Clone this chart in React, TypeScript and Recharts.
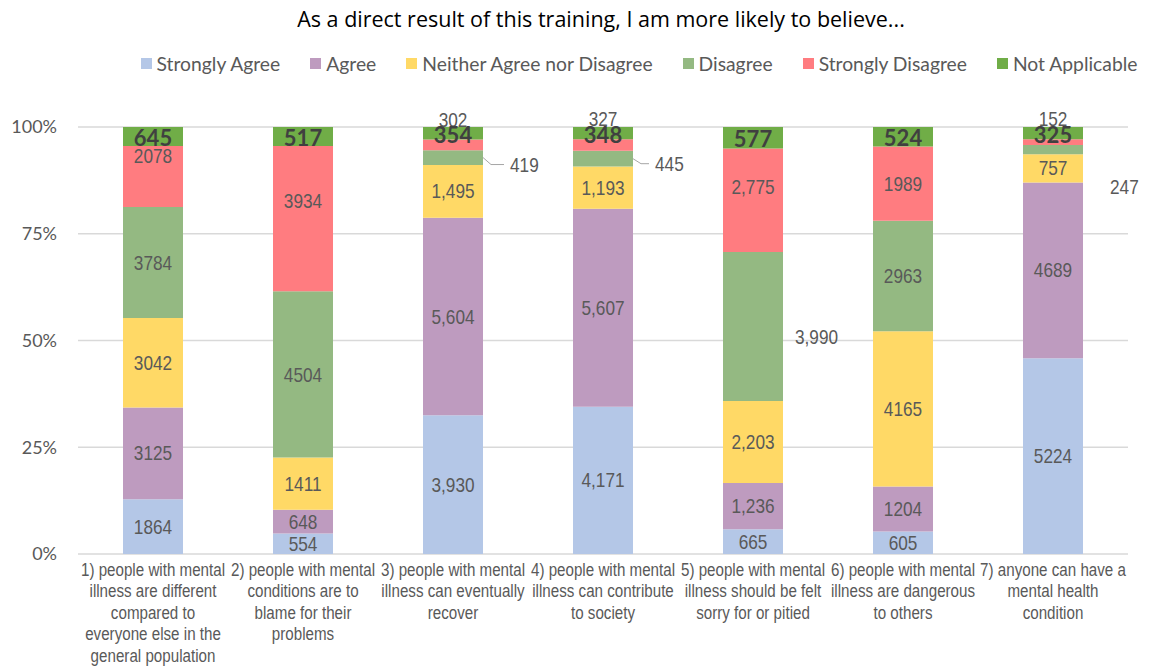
import React from 'react';
import { BarChart, Bar, XAxis, YAxis, CartesianGrid, LabelList } from 'recharts';

const categories = [
  '1) people with mental\nillness are different\ncompared to\neveryone else in the\ngeneral population',
  '2) people with mental\nconditions are to\nblame for their\nproblems',
  '3) people with mental\nillness can eventually\nrecover',
  '4) people with mental\nillness can contribute\nto society',
  '5) people with mental\nillness should be felt\nsorry for or pitied',
  '6) people with mental\nillness are dangerous\nto others',
  '7) anyone can have a\nmental health\ncondition',
];

const stronglyAgree = [1864, 554, 3930, 4171, 665, 605, 5224];
const agree = [3125, 648, 5604, 5607, 1236, 1204, 4689];
const neither = [3042, 1411, 1495, 1193, 2203, 4165, 757];
const disagree = [3784, 4504, 419, 445, 3990, 2963, 247];
const stronglyDisagree = [2078, 3934, 302, 327, 2775, 1989, 152];
const notApplicable = [645, 517, 354, 348, 577, 524, 325];

// which categories show thousands separators in their labels
const useComma = [false, false, true, true, true, false, false];

const yTicks = [0, 0.25, 0.5, 0.75, 1];

const series = [
  { key: 'sa', name: 'Strongly Agree', values: stronglyAgree, color: '#B4C7E7' },
  { key: 'a', name: 'Agree', values: agree, color: '#BE9BBF' },
  { key: 'n', name: 'Neither Agree nor Disagree', values: neither, color: '#FFD966' },
  { key: 'd', name: 'Disagree', values: disagree, color: '#94B982' },
  { key: 'sd', name: 'Strongly Disagree', values: stronglyDisagree, color: '#FF7C80' },
  { key: 'na', name: 'Not Applicable', values: notApplicable, color: '#70AD47' },
];

const chartData = categories.map((c, i) => {
  const row: Record<string, any> = { category: c };
  series.forEach((s) => {
    row[s.key] = s.values[i];
  });
  return row;
});

// no Arial Narrow here: Liberation Sans squeezed horizontally instead
const NARROW = '"Liberation Sans", Arial, sans-serif';
const SQUEEZE = 0.82;
const BODY = 'Lato, "Open Sans", sans-serif';

// manual placement tweaks for labels that Excel moved (series-category)
const labelTweaks: Record<string, { dx?: number; dy?: number; outside?: boolean; leader?: boolean; above?: boolean }> = {
  'sd-0': { dy: -21 },
  'sd-1': { dy: -18 },
  'sd-4': { dy: -13 },
  'sd-2': { above: true },
  'sd-3': { above: true },
  'sd-6': { above: true },
  'd-2': { dx: 27, dy: 7, outside: true, leader: true },
  'd-3': { dx: 22, dy: 5, outside: true, leader: true },
  'd-4': { dx: 12, dy: 10, outside: true },
  'd-6': { dx: 27, dy: 37, outside: true },
};

const fmt = (v: number, i: number) => (useComma[i] ? v.toLocaleString('en-US') : String(v));

const NarrowText = ({ x, y, anchor, children }: any) => (
  <text
    transform={`translate(${x},${y}) scale(${SQUEEZE},1)`}
    textAnchor={anchor}
    dominantBaseline="central"
    style={{ fontFamily: NARROW, fontSize: 21, fill: '#595959' }}
  >
    {children}
  </text>
);

const makeLabel = (sKey: string, values: number[]) => (props: any) => {
  const { index } = props;
  const x = Number(props.x);
  const y = Number(props.y);
  const w = Number(props.width);
  const h = Number(props.height);
  const text = fmt(values[index], index);
  const tw = labelTweaks[`${sKey}-${index}`];
  const cx = x + w / 2;
  const cy = y + h / 2;
  if (sKey === 'na') {
    return (
      <text
        x={cx}
        y={cy + 1}
        textAnchor="middle"
        dominantBaseline="central"
        style={{ fontFamily: BODY, fontWeight: 700, fontSize: 22, fill: '#404040' }}
      >
        {text}
      </text>
    );
  }
  if (tw && tw.above) {
    return (
      <NarrowText x={cx} y={y - 20} anchor="middle">
        {text}
      </NarrowText>
    );
  }
  if (tw && tw.outside) {
    const ly = cy + (tw.dy || 0);
    const lx = x + w + (tw.dx || 0);
    return (
      <g>
        {tw.leader && (
          <polyline
            points={`${x + w},${cy} ${x + w + 8},${ly} ${lx - 6},${ly}`}
            fill="none"
            stroke="#A6A6A6"
            strokeWidth={1}
          />
        )}
        <NarrowText x={lx} y={ly} anchor="start">
          {text}
        </NarrowText>
      </g>
    );
  }
  return (
    <NarrowText x={cx} y={cy + (tw?.dy || 0)} anchor="middle">
      {text}
    </NarrowText>
  );
};

const CategoryTick = (props: any) => {
  const { x, y, payload } = props;
  const lines = String(payload.value).split('\n');
  return (
    <text
      transform={`translate(${x},${y}) scale(${SQUEEZE},1)`}
      textAnchor="middle"
      style={{ fontFamily: NARROW, fontSize: 18.5, fill: '#595959' }}
    >
      {lines.map((l, i) => (
        <tspan key={i} x={0} dy={i === 0 ? 14 : 21.5}>
          {l}
        </tspan>
      ))}
    </text>
  );
};

export default function App() {
  return (
    <div style={{ position: 'relative', width: 1152, height: 666, background: '#fff' }}>
      <style>{`body{margin:0}`}</style>
      <div
        style={{
          position: 'absolute',
          top: 4,
          left: 50,
          width: 1102,
          textAlign: 'center',
          fontFamily: '"Open Sans", Lato, sans-serif',
          fontSize: 21.5,
          color: '#000',
        }}
      >
        As a direct result of this training, I am more likely to believe...
      </div>
      <div
        style={{
          position: 'absolute',
          top: 52,
          left: 126,
          width: 1026,
          display: 'flex',
          justifyContent: 'center',
          gap: 30,
          fontFamily: BODY,
          fontSize: 19.3,
          color: '#595959',
        }}
      >
        {series.map((s) => (
          <div key={s.key} style={{ display: 'flex', alignItems: 'center', gap: 5 }}>
            <span style={{ display: 'inline-block', width: 11, height: 11, background: s.color }} />
            <span>{s.name}</span>
          </div>
        ))}
      </div>
      <div style={{ position: 'absolute', top: 0, left: 0 }}>
        <BarChart
          width={1152}
          height={666}
          data={chartData}
          stackOffset="expand"
          margin={{ top: 127, right: 24, left: 0, bottom: 0 }}
        >
          <CartesianGrid vertical={false} stroke="#D9D9D9" strokeWidth={1.5} />
          <XAxis
            dataKey="category"
            axisLine={false}
            tickLine={false}
            interval={0}
            height={112}
            tick={<CategoryTick />}
          />
          <YAxis
            width={78}
            domain={[0, 1]}
            ticks={yTicks}
            axisLine={false}
            tickLine={false}
            tickSize={0}
            tickMargin={21}
            tickFormatter={(v: number) => `${Math.round(v * 100)}%`}
            tick={{ fontFamily: BODY, fontSize: 18, fill: '#595959' }}
          />
          {series.map((s) => (
            <Bar
              key={s.key}
              dataKey={s.key}
              name={s.name}
              stackId="a"
              fill={s.color}
              barSize={60}
              isAnimationActive={false}
            >
              <LabelList content={makeLabel(s.key, s.values)} />
            </Bar>
          ))}
        </BarChart>
      </div>
    </div>
  );
}
